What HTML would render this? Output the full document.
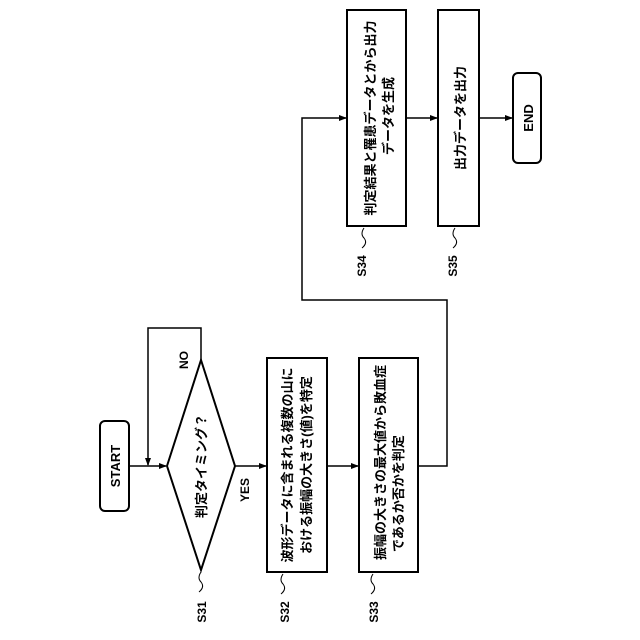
<!DOCTYPE html>
<html><head><meta charset="utf-8"><style>
html,body{margin:0;padding:0;background:#fff;}
svg{display:block;}
text{font-family:"Liberation Sans","Noto Sans CJK JP",sans-serif;font-weight:bold;fill:#000;}
</style></head><body>
<svg width="640" height="640" viewBox="0 0 640 640" xmlns="http://www.w3.org/2000/svg">
<defs><marker id="a" markerWidth="8" markerHeight="8" refX="7" refY="4" orient="auto" markerUnits="userSpaceOnUse"><path d="M0,1 L8,4 L0,7z" fill="#000"/></marker></defs>
<g fill="none" stroke="#000" stroke-width="2">
<rect x="100" y="421" width="29" height="90" rx="5"/>
<polygon points="201,360 235,466 201,570 167,466"/>
<rect x="267" y="358" width="60" height="214"/>
<rect x="359" y="358" width="59" height="214"/>
<rect x="347" y="10" width="59" height="216"/>
<rect x="438" y="10" width="41" height="216"/>
<rect x="513" y="73" width="28" height="90" rx="5"/>
</g>
<g fill="none" stroke="#000" stroke-width="1.5">
<line x1="129" y1="466" x2="166" y2="466" marker-end="url(#a)"/>
<polyline points="201,360 201,328 148,328 148,465" marker-end="url(#a)"/>
<line x1="235" y1="466" x2="266" y2="466" marker-end="url(#a)"/>
<line x1="327" y1="466" x2="358" y2="466" marker-end="url(#a)"/>
<polyline points="418,466 447,466 447,300 302,300 302,118 346,118" marker-end="url(#a)"/>
<line x1="406" y1="118" x2="437" y2="118" marker-end="url(#a)"/>
<line x1="479" y1="118" x2="512" y2="118" marker-end="url(#a)"/>
</g>
<g fill="none" stroke="#000" stroke-width="1">
<path d="M201,572 q-4,6 0,10 q4,5 -2,10"/>
<path d="M283,574 q-4,6 0,10 q4,5 -2,10"/>
<path d="M373,574 q-4,6 0,10 q4,5 -2,10"/>
<path d="M364,228 q-4,6 0,10 q4,5 -2,10"/>
<path d="M455,228 q-4,6 0,10 q4,5 -2,10"/>
</g>
<g font-size="13">
<text transform="translate(120,466) rotate(-90)" text-anchor="middle">START</text>
<text transform="translate(533,118) rotate(-90)" text-anchor="middle">END</text>
<text transform="translate(206,466) rotate(-90)" text-anchor="middle">判定タイミング？</text>
<text transform="translate(249,490) rotate(-90)" text-anchor="middle" font-size="12">YES</text>
<text transform="translate(188,360) rotate(-90)" text-anchor="middle" font-size="12">NO</text>
<text transform="translate(292,465) rotate(-90)" text-anchor="middle">波形データに含まれる複数の山に</text>
<text transform="translate(311,465) rotate(-90)" text-anchor="middle">おける振幅の大きさ(値)を特定</text>
<text transform="translate(385,560) rotate(-90)">振幅の大きさの最大値から敗血症</text>
<text transform="translate(403,552) rotate(-90)">であるか否かを判定</text>
<text transform="translate(375,118) rotate(-90)" text-anchor="middle">判定結果と罹患データとから出力</text>
<text transform="translate(393,116) rotate(-90)" text-anchor="middle">データを生成</text>
<text transform="translate(465,118) rotate(-90)" text-anchor="middle">出力データを出力</text>
<text transform="translate(206,612) rotate(-90)" text-anchor="middle" font-size="12">S31</text>
<text transform="translate(289,612) rotate(-90)" text-anchor="middle" font-size="12">S32</text>
<text transform="translate(378,612) rotate(-90)" text-anchor="middle" font-size="12">S33</text>
<text transform="translate(366,266) rotate(-90)" text-anchor="middle" font-size="12">S34</text>
<text transform="translate(457,266) rotate(-90)" text-anchor="middle" font-size="12">S35</text>
</g>
</svg>
</body></html>
